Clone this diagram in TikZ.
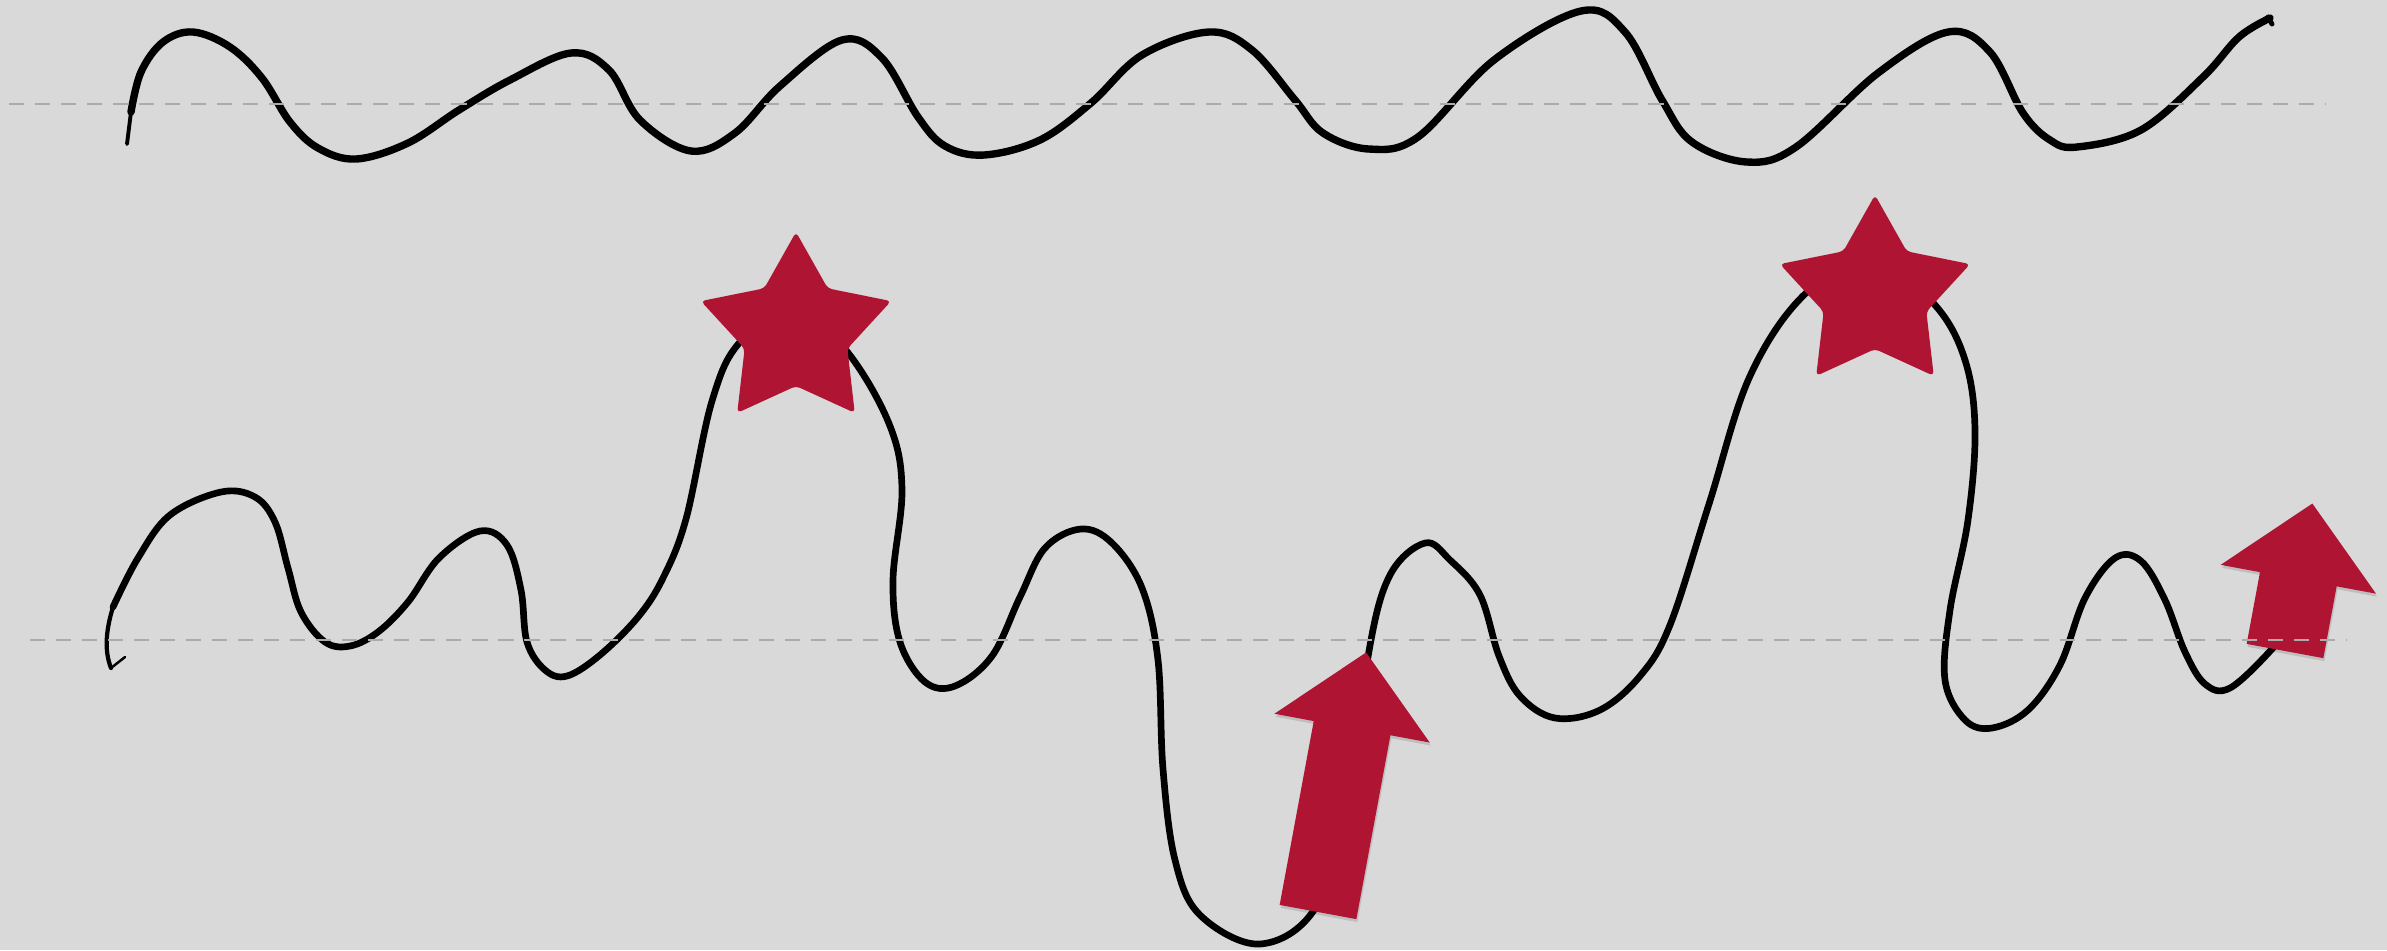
\documentclass[tikz,border=0pt]{standalone}
\usepackage{xcolor}
\usepackage{tikz}
\definecolor{CanvasGray}{HTML}{D9D9D9}
\definecolor{GuideGray}{HTML}{ABABAB}
\definecolor{MarkerRed}{HTML}{AF1533}
\newcommand{\starmark}[2]{%
    \fill[MarkerRed, rounded corners=1.2pt, shift={(#1,#2)}]
        (-90:100) \foreach \k in {1,...,9} {-- ({-90+36*\k}:{100-46*mod(\k,2)})} -- cycle;%
}
\newcommand{\boostarrow}[3]{%
    \fill[black, opacity=0.12, shift={(#1+1,#2+3)}, rotate=-10.5]
        (-39,0) -- (39,0) -- (39,{77-#3}) -- (79,{77-#3}) -- (0,-#3)
        -- (-79,{77-#3}) -- (-39,{77-#3}) -- cycle;%
    \fill[MarkerRed, shift={(#1,#2)}, rotate=-10.5]
        (-39,0) -- (39,0) -- (39,{77-#3}) -- (79,{77-#3}) -- (0,-#3)
        -- (-79,{77-#3}) -- (-39,{77-#3}) -- cycle;%
}

\begin{document}
\begin{tikzpicture}[x=0.01cm, y=-0.01cm,
        trace/.style={line width=2.1pt, line cap=round, line join=round},
        guideline/.style={GuideGray, line width=0.6pt, dash pattern=on 4.3pt off 3.1pt}]
    \useasboundingbox (0,0) rectangle (2387,950);
    \fill[CanvasGray] (0,0) rectangle (2387,950);
    % upper wave
    \draw[line width=1.1pt, line cap=round] (127,144) -- (131,112);
    \draw[trace] plot[smooth, tension=0.6] coordinates {
        (131,112) (141,72) (163,42) (193,32) (230,47) (262,78) (290,122)
        (318,148) (356,159) (408,143) (459,110) (510,80) (571,53) (609,70)
        (640,120) (691,151) (735,133) (780,86) (842,40) (882,58) (918,117)
        (945,146) (984,155) (1040,140) (1091,103) (1142,55) (1209,32)
        (1252,50) (1295,100) (1323,133) (1369,149) (1418,137) (1494,60)
        (1581,11) (1625,32) (1662,100) (1692,142) (1747,162) (1796,147)
        (1878,73) (1948,32) (1990,52) (2023,113) (2050,140) (2077,147)
        (2141,130) (2203,77) (2239,37) (2270,18)};
    \draw[line width=1.4pt, line cap=round] (2268,17) -- (2272,24);
    % lower wave
    \draw[line width=0.7pt, line cap=round] (125,657) -- (111,668);
    \draw[line width=1.2pt, line cap=round] (111,668) .. controls (104,650) and (106,630) .. (113,607);
    \draw[trace, line width=1.9pt] plot[smooth, tension=0.6] coordinates {
        (113,607) (138,558) (170,515) (221,492) (255,497) (275,522) (288,568)
        (301,612) (325,642) (350,646) (378,632) (408,602) (439,558) (480,531)
        (507,545) (521,590) (527,642) (545,670) (567,676) (600,655) (638,617)
        (663,578) (686,519) (712,401) (740,342) (796,305) (849,354) (890,426)
        (902,490) (893,580) (900,642) (925,682) (955,686) (992,656) (1020,597)
        (1045,548) (1081,529) (1112,543) (1142,588) (1158,660) (1163,769)
        (1175,860) (1200,915) (1260,944) (1316,907) (1350,800) (1369,651)
        (1390,575) (1425,543) (1450,560) (1480,595) (1499,656) (1520,696)
        (1555,718) (1600,710) (1640,676) (1670,625) (1709,504) (1750,376)
        (1806,293) (1875,258) (1935,305) (1965,360) (1975,430) (1968,520)
        (1950,610) (1945,680) (1965,720) (1992,728) (2028,710) (2060,665)
        (2085,598) (2115,558) (2141,561) (2165,600) (2185,652) (2205,684)
        (2230,688) (2272,649) (2288,625)};
    % markers
    \starmark{796}{332}
    \starmark{1875}{295}
    \boostarrow{1318}{912}{264}
    \boostarrow{2285}{651}{150}
    % guides
    \draw[guideline] (9,104) -- (2326,104);
    \draw[guideline] (30,640) -- (2347,640);
\end{tikzpicture}
\end{document}
